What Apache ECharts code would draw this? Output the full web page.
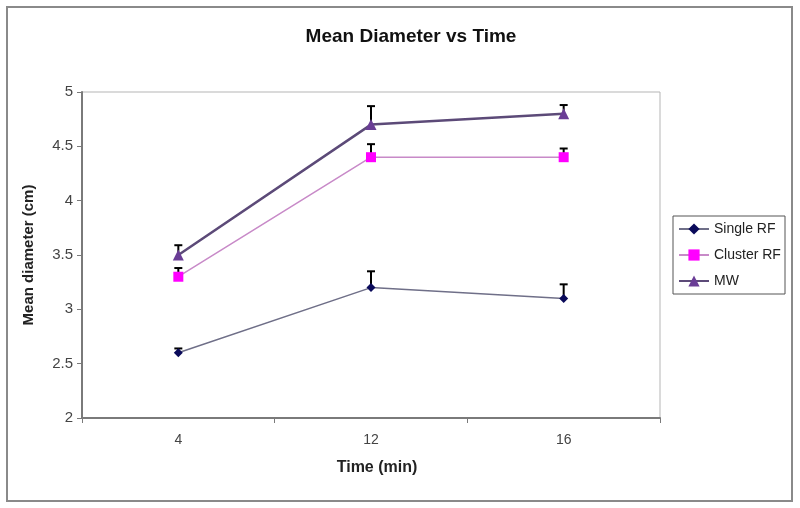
<!DOCTYPE html>
<html>
<head>
<meta charset="utf-8">
<script src="https://cdn.jsdelivr.net/npm/echarts@6/dist/echarts.min.js"></script>
<style>html,body{margin:0;padding:0;background:#fff}#c{width:800px;height:508px}</style>
</head>
<body>
<div id="c"></div>
<script>
var categories = ['4', '12', '16'];
var singleRF = [2.6, 3.2, 3.1];
var singleRFErr = [0.04, 0.15, 0.13];
var clusterRF = [3.3, 4.4, 4.4];
var clusterRFErr = [0.08, 0.12, 0.08];
var mw = [3.5, 4.7, 4.8];
var mwErr = [0.09, 0.17, 0.08];

function errData(vals, errs) {
  return vals.map(function (v, i) { return [i, v, v + errs[i]]; });
}
function errRender(params, api) {
  var base = api.coord([api.value(0), api.value(1)]);
  var top = api.coord([api.value(0), api.value(2)]);
  var hw = 4;
  return {
    type: 'group',
    children: [
      { type: 'line', shape: { x1: base[0], y1: base[1], x2: top[0], y2: top[1] }, style: { stroke: '#000', lineWidth: 2 } },
      { type: 'line', shape: { x1: top[0] - hw, y1: top[1], x2: top[0] + hw, y2: top[1] }, style: { stroke: '#000', lineWidth: 2 } }
    ]
  };
}

var chart = echarts.init(document.getElementById('c'));
chart.setOption({
  animation: false,
  backgroundColor: '#fff',
  title: {
    text: 'Mean Diameter vs Time',
    left: 406, top: 22, textAlign: 'center',
    textStyle: { fontFamily: 'Liberation Sans, Arial', fontWeight: 'bold', fontSize: 19, color: '#111' }
  },
  graphic: [
    { type: 'rect', shape: { x: 7, y: 7, width: 785, height: 494 }, style: { fill: 'none', stroke: '#8a8a8a', lineWidth: 2 }, z: -1 },
    { type: 'rect', shape: { x: 673, y: 216, width: 112, height: 78 }, style: { fill: '#fff', stroke: '#555', lineWidth: 1 }, z: 0 }
  ],
  legend: {
    orient: 'vertical',
    left: 673, top: 217,
    itemGap: 12, itemWidth: 30, itemHeight: 14,
    data: ['Single RF', 'Cluster RF', 'MW'],
    textStyle: { fontFamily: 'Liberation Sans, Arial', fontSize: 14, color: '#222' }
  },
  grid: { left: 82, right: 140, top: 92, bottom: 90, show: true, borderColor: '#b5b5b5', borderWidth: 1 },
  xAxis: {
    type: 'category', data: categories, boundaryGap: true,
    name: 'Time (min)', nameLocation: 'middle', nameGap: 42,
    nameTextStyle: { fontFamily: 'Liberation Sans, Arial', fontWeight: 'bold', fontSize: 16, color: '#222', padding: [0, 0, 0, 12] },
    axisLine: { lineStyle: { color: '#7a7a7a', width: 2 } },
    axisTick: { show: true, length: 5, lineStyle: { color: '#7a7a7a' } },
    axisLabel: { fontFamily: 'Liberation Sans, Arial', fontSize: 14, color: '#444', margin: 15 }
  },
  yAxis: {
    type: 'value', min: 2, max: 5, interval: 0.5,
    name: 'Mean diameter (cm)', nameLocation: 'middle', nameGap: 46,
    nameTextStyle: { fontFamily: 'Liberation Sans, Arial', fontWeight: 'bold', fontSize: 15, color: '#222' },
    axisLine: { show: true, lineStyle: { color: '#7a7a7a', width: 2 } },
    axisTick: { show: true, length: 5, lineStyle: { color: '#7a7a7a' } },
    axisLabel: { fontFamily: 'Liberation Sans, Arial', fontSize: 15, color: '#444', margin: 9 },
    splitLine: { show: false }
  },
  series: [
    { name: 'Single RF', type: 'line', data: singleRF, symbol: 'diamond', symbolSize: 9,
      itemStyle: { color: '#0a0a5a' }, lineStyle: { color: '#6f6f88', width: 1.5 }, z: 3 },
    { name: 'Cluster RF', type: 'line', data: clusterRF, symbol: 'rect', symbolSize: 10,
      itemStyle: { color: '#ff00ff' }, lineStyle: { color: '#c88ac8', width: 1.5 }, z: 3 },
    { name: 'MW', type: 'line', data: mw, symbol: 'triangle', symbolSize: 11,
      itemStyle: { color: '#6a3d96' }, lineStyle: { color: '#5c4a78', width: 2.5 }, z: 3 },
    { type: 'custom', data: errData(singleRF, singleRFErr), renderItem: errRender, z: 2, silent: true },
    { type: 'custom', data: errData(clusterRF, clusterRFErr), renderItem: errRender, z: 2, silent: true },
    { type: 'custom', data: errData(mw, mwErr), renderItem: errRender, z: 2, silent: true }
  ]
});
</script>
</body>
</html>
